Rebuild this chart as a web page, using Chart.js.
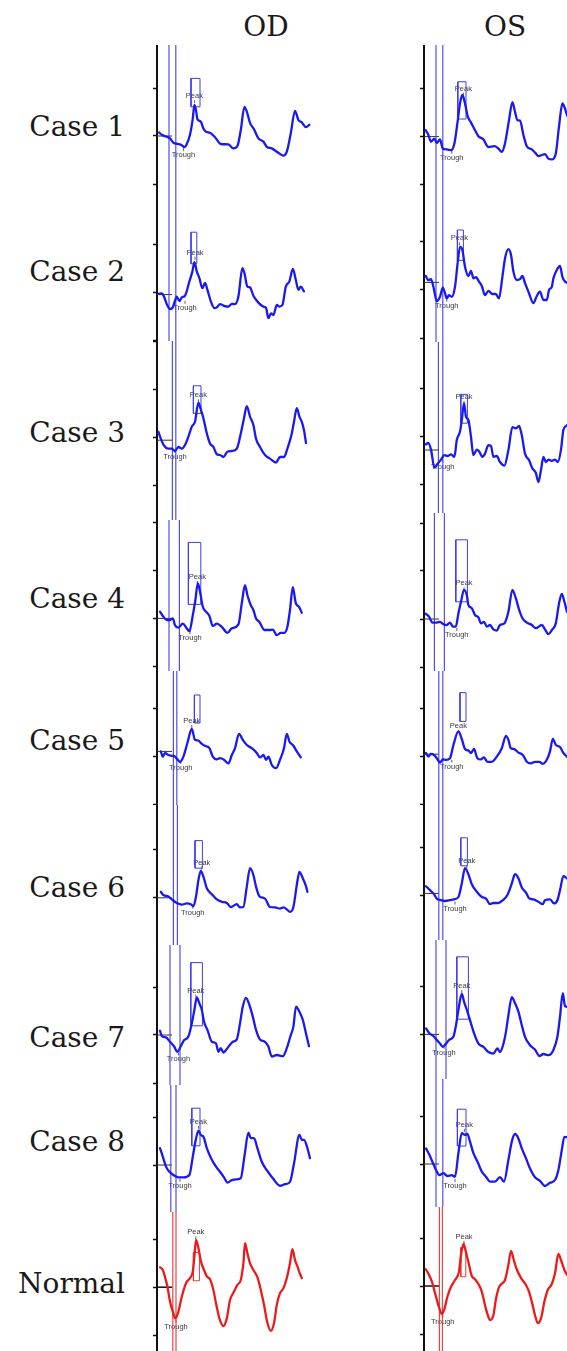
<!DOCTYPE html>
<html>
<head>
<meta charset="utf-8">
<title>Flicker ERG waveforms, OD / OS</title>
<script src="https://cdn.jsdelivr.net/npm/chart.js@4.4.1/dist/chart.umd.min.js"></script>
<style>
  html, body { margin: 0; padding: 0; background: #fff; overflow: hidden; }
  #figure { position: relative; width: 567px; height: 1351px; overflow: hidden; background: #fff; }
  .eye { position: absolute; top: 8px; font: 28px "DejaVu Serif", serif; line-height: 38px; color: #1a1a1a; transform: translateX(-50%); white-space: nowrap; }
  .row { position: absolute; right: 442px; font: 28px "DejaVu Serif", serif; line-height: 38px; color: #1a1a1a; white-space: nowrap; }
  canvas { position: absolute; }
</style>
</head>
<body>
<div id="figure"></div>
<script>
// ---------------------------------------------------------------
// Data: time (ms from stimulus) and amplitude (µV) for every trace
// ---------------------------------------------------------------
const eyeLabels = ['OD', 'OS'];
const rowLabels = ['Case 1', 'Case 2', 'Case 3', 'Case 4', 'Case 5', 'Case 6', 'Case 7', 'Case 8', 'Normal'];

// Right eye traces [ms, µV]
const od1 = [[1,0.9],[2.4,0.3],[4.9,-0.2],[6.5,-0.6],[8.2,-1.7],[10.7,-2],[12.4,-2.3],[13.7,-2.8],[14.9,-2],[16.5,0.3],[17.9,4.4],[18.7,7.8],[19.5,6.5],[20.2,4.2],[21.9,3.6],[23.2,1.9],[24.4,1.1],[26.5,0.8],[29,-0.3],[31.9,-2],[35.7,-2.1],[38.2,-3.1],[40.2,-2.5],[41.9,1.5],[43.7,7.3],[44.9,6.1],[46.5,3.3],[48.5,1.7],[50.7,-0.6],[53.2,-1.4],[54.9,-2.7],[57.4,-3.1],[60.7,-4.2],[63.2,-4.9],[64.9,-3.9],[66.9,0.7],[69,6.3],[70.7,4],[72.4,3.4],[74.5,2.2],[76.2,2.8]];
const od2 = [[0.7,-0.3],[2.4,-0.2],[3.5,-1],[4.9,-2.9],[6.5,-4.1],[7.9,-3.7],[9,-2],[9.9,-1],[11.2,-2.1],[12.4,-1.2],[14,-0.8],[16.2,2.8],[17.7,5.3],[18.7,7.6],[19.9,5.3],[21.2,3.6],[22.7,1.1],[24,2.4],[25.2,0.7],[27,-2.3],[28.7,-3.9],[29.9,-3.7],[31.5,-2.9],[33.5,-3.3],[35.7,-3.5],[37.4,-2.8],[39,-2.9],[40.7,-1],[42.7,6.1],[43.7,4.9],[45.2,1.5],[46.5,1.3],[48.2,-0.8],[50.7,-2.5],[53.2,-3.5],[54.5,-3.8],[55.7,-6.4],[57,-5.2],[58.2,-5.6],[59.9,-3.1],[61.2,-3.5],[62.7,-3.1],[64.4,1.5],[66.2,2.8],[67.9,5.9],[69.4,3.2],[70.7,0.7],[71.9,1.5],[73.5,0.3]];
const od3 = [[0.7,1.4],[1.9,-0.3],[3.2,-1.8],[5.7,-2.8],[7.4,-2.8],[9,-3.4],[10.7,-2.4],[12.4,-2.8],[14,-1.9],[15.7,0.2],[17.4,2.7],[19,3.9],[20.7,8.7],[21.9,7],[23.2,4.8],[24.9,1],[26.5,-1.5],[28.2,-2.4],[29.9,-4.2],[31.5,-4.4],[33.2,-4.9],[35.2,-3.6],[37.4,-3.4],[39.9,-2.8],[41.9,1],[43.5,4.8],[44.9,7.8],[46.5,5.2],[48.2,3.1],[49.5,-0.3],[51.5,-2.4],[54,-4.4],[56.5,-5.3],[59.5,-6.3],[61.5,-4.9],[63.5,-4.9],[65.2,-2.8],[67.4,1],[68.5,3.9],[69.9,7.3],[71.2,5.2],[72.4,3.9],[73.5,1.8],[74.5,-1.4]];
const od4 = [[1.5,1.7],[3.2,0.4],[4.9,-0.4],[6.5,-0.4],[7.9,0],[9,-1.7],[10.7,-2.3],[12.9,-1.3],[14.9,-2.5],[16.2,-3.2],[17.9,0.8],[19.2,4.6],[20.4,8.8],[21.5,6.7],[22.9,2.9],[24.5,1.7],[26.2,0.6],[27.9,-1.9],[29.9,-1.3],[32.4,-2.1],[35.2,-3.6],[37.4,-2.5],[40.7,-1.5],[42.4,3.8],[44,8.3],[45.2,5.8],[46.9,3.3],[48.2,2.1],[49.5,0],[51.2,-0.9],[53.7,-2.9],[56.2,-2.9],[57.9,-2.8],[59.9,-4.2],[61.9,-3.6],[63.7,-3.6],[65.2,-2.1],[66.5,2.1],[67.9,7.8],[69.4,3.8],[71,2.9],[72.4,1.4]];
const od5 = [[1.9,1.3],[2.9,0],[4,0.9],[5.7,0.4],[7.4,0.2],[9,0],[10.2,-0.7],[11.5,-1.3],[13.2,0],[15.2,3.4],[17.4,6.9],[19,4.2],[20.7,4],[22.4,3.2],[24,2.7],[26.2,2.1],[27.9,0],[29.9,-0.7],[31.5,-0.4],[33.5,-0.8],[35.7,-1.7],[37.4,0.4],[39,2.1],[41,5.7],[42.9,4.2],[44.9,2.9],[47.4,2.1],[49.9,0.9],[51.5,-0.2],[53.2,0.4],[54.5,-0.8],[55.7,0],[57.4,-2.1],[59.5,-2.9],[61.5,-0.8],[63.5,2.1],[64.9,5.7],[66.2,3.8],[68.2,2.7],[69.9,1.3],[71.9,-0.2]];
const od6 = [[1.9,1.5],[3.2,0.7],[5.7,0.3],[7.4,-0.4],[9.9,-1.3],[12.4,-1.7],[14.9,-1.4],[16.9,-1.6],[18.2,-2.1],[19.5,0.3],[20.7,4.4],[21.9,6.7],[23.2,5.3],[24.9,2.4],[27.4,0.9],[29.9,-0.4],[32.4,-1],[34.9,-1.3],[36.9,-2.3],[39.9,-1.6],[41.5,-2.4],[43.2,-2.3],[44.9,2.8],[46.5,7.4],[48.2,5.7],[49.5,2.8],[51.2,0.4],[54,-0.2],[56.5,-2.3],[59,-2.4],[61.5,-2.7],[63.2,-2.4],[64.9,-2.9],[66.5,-3.5],[68.2,-2.3],[69.9,3.2],[71.2,6.5],[72.9,4.9],[74.5,2.9],[75.2,1.5]];
const od7 = [[1.5,1.1],[2.4,-0.3],[4.5,-0.6],[6.5,-1.7],[8.5,-2.8],[10.2,-4.2],[11.9,-2.8],[13.5,-1.3],[15.7,-0.4],[17.4,2.9],[18.7,6.3],[19.9,9.4],[21.2,7.9],[22.4,6.3],[23.5,3.3],[25.2,1.3],[27.4,-1.7],[29.5,-2.1],[30.7,-4.2],[31.9,-3.3],[33.2,-4.4],[35.2,-3.3],[37.9,-1.7],[39.9,-1.1],[41.5,2.9],[42.9,7.1],[44.5,9.3],[46.2,7.5],[47.9,4.6],[49.5,1.3],[51.5,-1.1],[54,-1.7],[55.7,-2.9],[57.4,-5.4],[59.9,-5],[62.9,-5.3],[64.9,-3.3],[66.9,0],[68.2,2.1],[69.5,7.1],[71.2,5.8],[72.9,3.8],[74.5,0.4],[76,-2.8]];
const od8 = [[1.5,4.2],[2.9,2.1],[4.5,-0.4],[6.2,-1.7],[8.2,-2.5],[10.7,-3.1],[13.2,-3.1],[16.2,-2.5],[17.9,2.1],[19.4,6.3],[20.7,8.6],[21.9,7.5],[23.2,7.1],[24.9,4.2],[27.4,1.3],[29.5,-0.4],[31.5,-1.7],[33.5,-3.1],[35.2,-4.4],[37.4,-3.8],[39.9,-3.6],[41.9,-3.3],[43.7,2.1],[45.7,8.1],[46.9,6.7],[48.5,6.7],[50.2,4.2],[52.4,0.8],[54.9,-1.3],[57.9,-3.3],[61.5,-5.2],[64,-4.8],[66.5,-4.2],[68.5,0.4],[71.2,7.5],[72.4,6.3],[73.5,6.3],[75.2,4.2],[76.5,1.7]];
const od9 = [[1.5,5],[2.9,4.3],[4,2.5],[5.2,0.2],[6.5,-3.6],[7.9,-6.1],[9.2,-7.8],[10.7,-6.1],[12.4,-2.4],[14.5,1],[16.5,2.3],[17.9,3.9],[18.7,7.7],[19.5,11.8],[20.7,9.8],[22,6.4],[23.5,4.3],[24.9,2.7],[26.5,2],[28.2,-0.7],[29.5,-4],[31.2,-7.8],[33.2,-9.7],[34.9,-7.8],[36.5,-3.2],[38.5,-1.1],[40.2,0.6],[41.9,1.8],[43.2,6],[44,11],[45.2,8.5],[46.5,6],[48.2,4.3],[50.2,2.5],[51.9,-0.7],[53.5,-4.4],[55.2,-8.9],[56.9,-10.9],[58.5,-9],[59.9,-4.4],[61.5,-1.5],[63.2,-0.3],[64.9,2.3],[66.5,6],[67.7,9.5],[69,6.8],[70.2,5.2],[71.2,3.7],[72.4,2.3]];

// Left eye traces [ms, µV]
const os1 = [[0.9,1.6],[2.2,0.4],[3.5,-1.3],[5.2,-0.5],[6.4,-1.6],[8,-0.7],[9.4,-3],[11.4,-3.2],[13.5,-3.4],[15.2,-1.7],[16.9,4.1],[18,8.3],[19.2,10.4],[20.5,8.3],[21.9,5],[23.5,3.5],[25.5,1.6],[27.2,0.1],[29.7,-0.7],[32.2,-2.6],[35.2,-2.4],[37.2,-3],[38.9,-3.8],[40.5,-1.7],[42.5,4.1],[44.2,8.6],[45.5,6.2],[46.7,4.1],[48,4],[49.7,0.4],[51.4,-2.4],[53.9,-3.2],[55.9,-4.2],[57.2,-4.9],[58.9,-4.6],[60.5,-4.4],[62.2,-5.5],[63.9,-5.7],[65.9,-4.2],[67.5,2.5],[69.2,8.3],[70.5,7],[71.5,5.4],[73,4.1]];
const os2 = [[0.9,3.5],[2.2,2.5],[3.5,2.7],[4.7,0.8],[6.4,-2.8],[8,-1.7],[9.4,0.6],[10.5,-0.8],[11.4,-2.1],[12.5,-1.3],[13.9,-1.7],[15.5,0.8],[16.9,7.1],[18,10.8],[19.2,10],[20.5,5.8],[22.2,3.5],[23.5,4.8],[24.7,2.9],[26,3.2],[27.5,2.1],[28.9,1],[30.5,-1.3],[32.2,-0.2],[34.2,-1],[35.9,-1],[37.5,-2.1],[39.2,3.3],[40.5,7.9],[42.2,10.2],[43.5,8.8],[44.7,4.6],[46.4,2.5],[48,2.7],[49.2,3.5],[50.5,1.7],[52.2,-0.4],[54.7,-3.3],[56.4,-1.5],[58,-0.4],[59.7,-2.5],[61.4,-2.5],[62.5,0],[63.9,0.8],[64.7,2.9],[66.4,5],[68,6],[69.2,3.3],[70.5,2.1],[71.5,1.8]];
const os3 = [[0.9,-1.9],[2.2,-1.5],[3.5,-3.2],[5.2,-7.7],[6.9,-6.7],[8.5,-5.7],[10.2,-4.6],[11.9,-4.8],[13.5,-4.4],[15.2,-5],[16.4,-0.8],[18,1.3],[18.9,4.2],[20,8.4],[21,5],[22.2,4.2],[23.4,0.4],[24.7,-4.6],[26.4,-3.2],[27.5,-3.6],[29.2,-5],[30.5,-4.2],[32.2,-2.1],[33.5,-2.3],[34.7,-5],[36.4,-4.8],[38,-6.3],[40.2,-7.2],[42.2,-3.3],[44.2,2.4],[45.9,2.1],[47.5,2.7],[48.9,0.4],[50.5,-4.2],[52.5,-5.8],[54.2,-7.9],[55.9,-9],[57.2,-11.3],[58.5,-8.3],[59.7,-5],[60.9,-6.3],[62.2,-5.7],[63.9,-6],[65.5,-5.7],[66.9,-6.3],[68.5,-3.2],[69.7,1.7],[71.5,2.9]];
const os4 = [[0.9,1.3],[2.5,0.6],[4.2,-0.9],[6.4,-0.9],[8,-0.7],[9.7,-1.3],[11.4,-1.5],[13,-0.9],[14.4,-1.9],[15.9,-1.9],[17.2,1.4],[18.5,4.3],[20,7.3],[21.4,6],[22.2,3.5],[23.9,2.7],[25.5,1],[27.2,0.4],[28.5,-1.1],[30,-0.7],[31.4,-1.9],[33,-1.5],[34.7,-2.6],[36.4,-2.9],[38,-1.5],[40.2,-1.1],[42.2,1.8],[44.2,7.3],[45.9,5.2],[47.5,2.4],[49.2,0.2],[51.4,-0.9],[53.9,-1.5],[55.9,-2.3],[58.9,-1.5],[60.5,-2.6],[62.2,-3.8],[63.9,-2.8],[65.9,-1.1],[67.5,3.9],[68.9,6.3],[70.2,4.3],[71.5,1.8]];
const os5 = [[1,0.9],[2.2,0],[3.4,0.7],[5,0.4],[6.4,-0.4],[8,-1.5],[9.4,-0.7],[11,-0.8],[13,-0.4],[14.7,2.9],[17.2,6.3],[18.9,4.4],[20.5,1.9],[22.2,1.5],[23.5,0.9],[25,1.9],[26.7,-0.4],[28.4,-0.7],[30,-0.2],[31.7,-1.3],[33.9,-1.3],[36.4,0],[38.9,2.1],[41,5.2],[42.2,4.2],[43.4,2.1],[45,1.9],[47.2,1],[49.4,0.4],[51.4,-1.3],[53.4,-1.7],[55.5,-1.3],[57.7,-1.3],[59.4,-1.8],[61.4,-0.8],[63,1.3],[64.4,4.4],[66,2.9],[68,2.4],[69.7,0.9],[71.4,0]];
const os6 = [[1,2.4],[3,1.4],[4.7,0.6],[6.4,-0.7],[8.4,-1.1],[10.5,-1.3],[13,-1.1],[15,-0.9],[17.2,-0.3],[18.9,3.1],[20.5,6.9],[22.2,5.4],[23.9,2.9],[26.4,1],[28.9,-0.3],[31,-0.7],[33,-2.1],[34.7,-1.8],[37.2,-1.8],[39.4,-1.1],[41.7,0.2],[43.9,3.1],[45.5,5.4],[47.2,4.4],[48.9,2.1],[51,0.8],[52.7,-0.7],[54.7,-0.9],[57.2,-1.5],[59.4,-2.1],[60.5,-1.1],[63,-0.9],[65,-1.9],[66.7,-1.1],[68,1.4],[69.7,4.9],[71.4,4.4]];
const os7 = [[1,1.5],[2.7,0.3],[4.7,-0.4],[6.4,-1.4],[8,-2.3],[9.4,-3.1],[11,-2.3],[12.7,-1.3],[14.7,-0.6],[16,2.3],[17.2,6.1],[18.9,10.1],[20,8.2],[21.7,5.7],[23.4,2.9],[25,0.3],[27.2,-2.3],[29.7,-3.1],[32.2,-4.4],[34.7,-4.8],[36.7,-3.5],[38,-4.4],[39.4,-2.9],[41,0.7],[42.2,4.8],[43.9,9.3],[45.5,7.8],[47.2,5.7],[48.9,2.3],[50.5,-0.6],[53,-2.7],[55.5,-3.8],[57.7,-5.4],[59.7,-4.9],[62.2,-5.2],[64.7,-3.9],[66.7,-0.6],[68,4.4],[69.4,10.3],[70.5,7.1],[71.4,6.9]];
const os8 = [[1,3.9],[2.7,2.3],[4.4,0.3],[6,-1.5],[7.7,-2.8],[9.7,-2.3],[11.7,-3],[13.9,-2.8],[15.5,-3.2],[17.2,2.7],[18.9,7.7],[20.5,7.3],[21.7,7.5],[23,5.6],[24.7,2.7],[26.7,0.6],[28.9,-1.9],[31,-3.2],[33,-4.4],[35.5,-4.4],[38,-3.3],[40,-4.4],[42.2,1],[43.9,5.6],[45.5,7.5],[47.2,6.4],[48.9,3.9],[51,1.4],[53,-1.1],[55.5,-3.3],[58,-4.2],[60.5,-5.5],[63,-4.7],[65.5,-4],[67.2,-1.5],[68.9,3.5],[70.2,6.8],[71.4,6.7]];
const os9 = [[0.9,4.2],[2.5,2.8],[4.2,0.7],[5.9,-2.5],[7.5,-5.3],[8.9,-7],[10.2,-5.8],[11.7,-2.7],[13.5,-0.2],[15.5,1.5],[17.5,3.6],[18.5,7.8],[19.7,10.5],[20.9,8.6],[22.5,5.3],[23.9,2.5],[25.5,1.7],[27.2,0.5],[28.9,-1.4],[30.5,-4.8],[31.9,-7.3],[33,-8.5],[34.7,-7.3],[35.9,-3.5],[37.5,-0.3],[39.2,0.7],[40.5,1.5],[42.2,5.3],[43.5,8.8],[44.9,6.5],[46.5,4],[48.9,1.7],[50.9,0.3],[52.5,-1.4],[53.9,-3.9],[55.5,-7.3],[56.9,-9.3],[58.5,-8.1],[60.2,-3.9],[61.9,-1],[63.9,0.5],[65.5,3.2],[67.2,8],[68.5,6.5],[70.2,4],[71.5,2.8]];

// Trough cursor pair per trace (ms)
const odCursors = [[6,9.4],[6,9.4],[7.7,9.4],[6,11.2],[8.2,9.9],[8.2,10.2],[6.5,11.5],[6.9,9.5],[7.9,9.5]];
const osCursors = [[6,9.4],[6,9.4],[7.2,9.4],[5.2,10.2],[7.4,9.4],[7.4,9.4],[6,11],[6,9.4],[7.7,9.2]];

// Peak search window per trace: [start ms, end ms, low µV, high µV]
const odPeakWindow = [[17,21.5,7.3,14.4],[17,19.9,7.2,15.1],[18.2,22,6,12.9],[15.7,21.9,3.5,19],[18.7,21.5,8.4,15.4],[19,22.7,7.4,14.3],[16.9,22.7,2.3,18.1],[17.4,21.5,4.8,14.2],[18.2,21.2,1.6,8.7]];
const osPeakWindow = [[16.9,21,4.4,13.7],[16.7,19.7,7.4,15],[18.4,21.7,3.4,10.6],[15.9,21.7,4.3,19.8],[18,21,8.8,16],[18.4,21.7,7.5,14.5],[16.4,22.2,3.8,19.4],[16.7,21,4.5,13.7],[18.4,20.9,2.3,9.6]];

// Baseline level per trace (µV)
const odBaseline = [0,-0.5,-0.7,0,1.3,0,0,0,0];
const osBaseline = [0,1.9,-3.3,0,0.6,0.6,0,0,0];

// Where the "Peak" / "Trough" annotations sit [ms, µV]
const odPeakNote = [[18.7,10],[19,10],[20.7,10.5],[20.2,10.4],[17.4,8.9],[22.4,8.8],[19.4,11.1],[20.7,10.8],[19.4,13.7]];
const odTroughNote = [[13.2,-4.8],[14,-3.8],[9,-4.9],[16.5,-4.9],[11.9,-2.9],[17.9,-3.7],[10.7,-6.1],[11.5,-5.2],[9.5,-9.9]];
const osPeakNote = [[19.7,12],[17.7,12.9],[20,10],[20,8.9],[17.2,7.7],[21.4,8.7],[18.9,12.1],[20.2,9.8],[20,12.3]];
const osTroughNote = [[13.9,-5.3],[11.4,-3.9],[9.4,-7.5],[16.4,-4],[13.9,-2.5],[15.5,-3.2],[10,-4.6],[15.5,-5.5],[9.4,-8.9]];

// Scale: amplitude tick every 12 µV, sweep shown 0–79 ms
const TICK_STEP = 12;
const SWEEP_MS = 79;

// ---------------------------------------------------------------
// Layout
// ---------------------------------------------------------------
const PX_PER_UV = 4;                  // vertical scale of every panel
const axisX = { OD: 157, OS: 424 };   // left axis position of each column
const AXIS_GUTTER = 8;                // room for the tick marks
const PLOT_W = 158;
// panel [top, bottom] in px and the amplitude shown at the top edge (µV)
const odPanels = [[45,197,22.75],[197,341,23.9],[341,520,24.1],[520,671,24.6],[671,805,21.4],[805,945,23.2],[945,1085,22.5],[1085,1212,20],[1212,1351,18.8]];
const osPanels = [[45,197,22.9],[197,342,23.25],[342,513,23.7],[513,671,26.5],[671,805,21.4],[805,940,22.7],[940,1079,23.6],[1079,1207,21.25],[1207,1351,19.75]];
const headerX = { OD: 266, OS: 505 };
const rowLabelY = [127, 272, 433, 599, 741, 888, 1038, 1142, 1284];

const figure = document.getElementById('figure');

eyeLabels.forEach(eye => {
  const d = document.createElement('div');
  d.className = 'eye';
  d.textContent = eye;
  d.style.left = headerX[eye] + 'px';
  figure.appendChild(d);
});
rowLabels.forEach((label, i) => {
  const d = document.createElement('div');
  d.className = 'row';
  d.textContent = label;
  d.style.top = (rowLabelY[i] - 19) + 'px';
  figure.appendChild(d);
});

// "Peak" and "Trough" notes, drawn under the cursors like the recorder does
const peakTroughNotes = {
  id: 'peakTroughNotes',
  beforeDatasetsDraw(chart, args, opts) {
    const { ctx, scales: { x, y } } = chart;
    ctx.save();
    ctx.font = '7.5px "Liberation Sans", Arial, sans-serif';
    ctx.fillStyle = '#3b3b3b';
    ctx.strokeStyle = '#3b3b3b';
    ctx.lineWidth = 0.8;
    ctx.textAlign = 'center';
    ctx.textBaseline = 'middle';
    const px = x.getPixelForValue(opts.peak[0]), py = y.getPixelForValue(opts.peak[1]);
    ctx.fillText('Peak', px, py);
    ctx.beginPath(); ctx.moveTo(px, py + 4); ctx.lineTo(px, py + 7); ctx.stroke();
    const tx = x.getPixelForValue(opts.trough[0]), ty = y.getPixelForValue(opts.trough[1]);
    ctx.fillText('Trough', tx, ty);
    ctx.beginPath(); ctx.moveTo(tx, ty - 4); ctx.lineTo(tx, ty - 7); ctx.stroke();
    ctx.restore();
  }
};

const toPoints = arr => arr.map(([x, y]) => ({ x, y }));

function drawPanel(eye, row, panel, wave, cursors, win, base, peakNote, troughNote) {
  const [top, bottom, vmax] = panel;
  const height = bottom - top;
  const vmin = vmax - height / PX_PER_UV;
  const normal = row === rowLabels.length - 1;
  const traceColor = normal ? '#ec1b1b' : '#1a1af0';
  const cursorColor = normal ? 'rgba(228,60,60,0.95)' : 'rgba(70,70,238,0.95)';
  const windowColor = normal ? '#e23a3a' : '#3d3df0';

  const canvas = document.createElement('canvas');
  canvas.width = AXIS_GUTTER + PLOT_W + 4;
  canvas.height = height;
  canvas.style.left = (axisX[eye] - AXIS_GUTTER) + 'px';
  canvas.style.top = top + 'px';
  figure.appendChild(canvas);

  const [w0, w1, wLo, wHi] = win;
  new Chart(canvas, {
    type: 'line',
    data: {
      datasets: [
        { data: toPoints(wave), borderColor: traceColor, borderWidth: 2.3, pointRadius: 0,
          cubicInterpolationMode: 'monotone', borderJoinStyle: 'round', borderCapStyle: 'round', order: 0 },
        { data: [{ x: cursors[0], y: vmin }, { x: cursors[0], y: vmax }], borderColor: cursorColor, borderWidth: 1.2, pointRadius: 0, order: 1 },
        { data: [{ x: cursors[1], y: vmin }, { x: cursors[1], y: vmax }], borderColor: cursorColor, borderWidth: 1.2, pointRadius: 0, order: 1 },
        { data: [{ x: w0, y: wLo }, { x: w1, y: wLo }, { x: w1, y: wHi }, { x: w0, y: wHi }, { x: w0, y: wLo }],
          borderColor: windowColor, borderWidth: 1, pointRadius: 0, order: 1 },
        { data: [{ x: 0, y: base }, { x: 7.5, y: base }], borderColor: normal ? '#111' : '#333', borderWidth: normal ? 1.5 : 1, pointRadius: 0, order: 1 }
      ]
    },
    options: {
      responsive: false,
      animation: false,
      events: [],
      layout: { padding: { left: 0, right: 4, top: 0, bottom: 0 } },
      plugins: {
        legend: { display: false },
        tooltip: { enabled: false },
        peakTroughNotes: { peak: peakNote, trough: troughNote }
      },
      scales: {
        x: { type: 'linear', min: 0, max: SWEEP_MS, display: false },
        y: {
          type: 'linear', min: vmin, max: vmax,
          afterFit(scale) { scale.width = AXIS_GUTTER; },
          afterBuildTicks(scale) {
            const ticks = [];
            for (let v = Math.ceil(vmin / TICK_STEP) * TICK_STEP; v <= vmax; v += TICK_STEP) ticks.push({ value: v });
            scale.ticks = ticks;
          },
          grid: { drawOnChartArea: false, drawTicks: true, tickLength: 4, tickColor: '#111', tickWidth: 1.5, color: '#111' },
          border: { display: true, color: '#111', width: 2 },
          ticks: { display: false }
        }
      }
    },
    plugins: [peakTroughNotes]
  });
}

const odTraces = [od1, od2, od3, od4, od5, od6, od7, od8, od9];
const osTraces = [os1, os2, os3, os4, os5, os6, os7, os8, os9];

rowLabels.forEach((_, i) => {
  drawPanel('OD', i, odPanels[i], odTraces[i], odCursors[i], odPeakWindow[i], odBaseline[i], odPeakNote[i], odTroughNote[i]);
  drawPanel('OS', i, osPanels[i], osTraces[i], osCursors[i], osPeakWindow[i], osBaseline[i], osPeakNote[i], osTroughNote[i]);
});
</script>
</body>
</html>
